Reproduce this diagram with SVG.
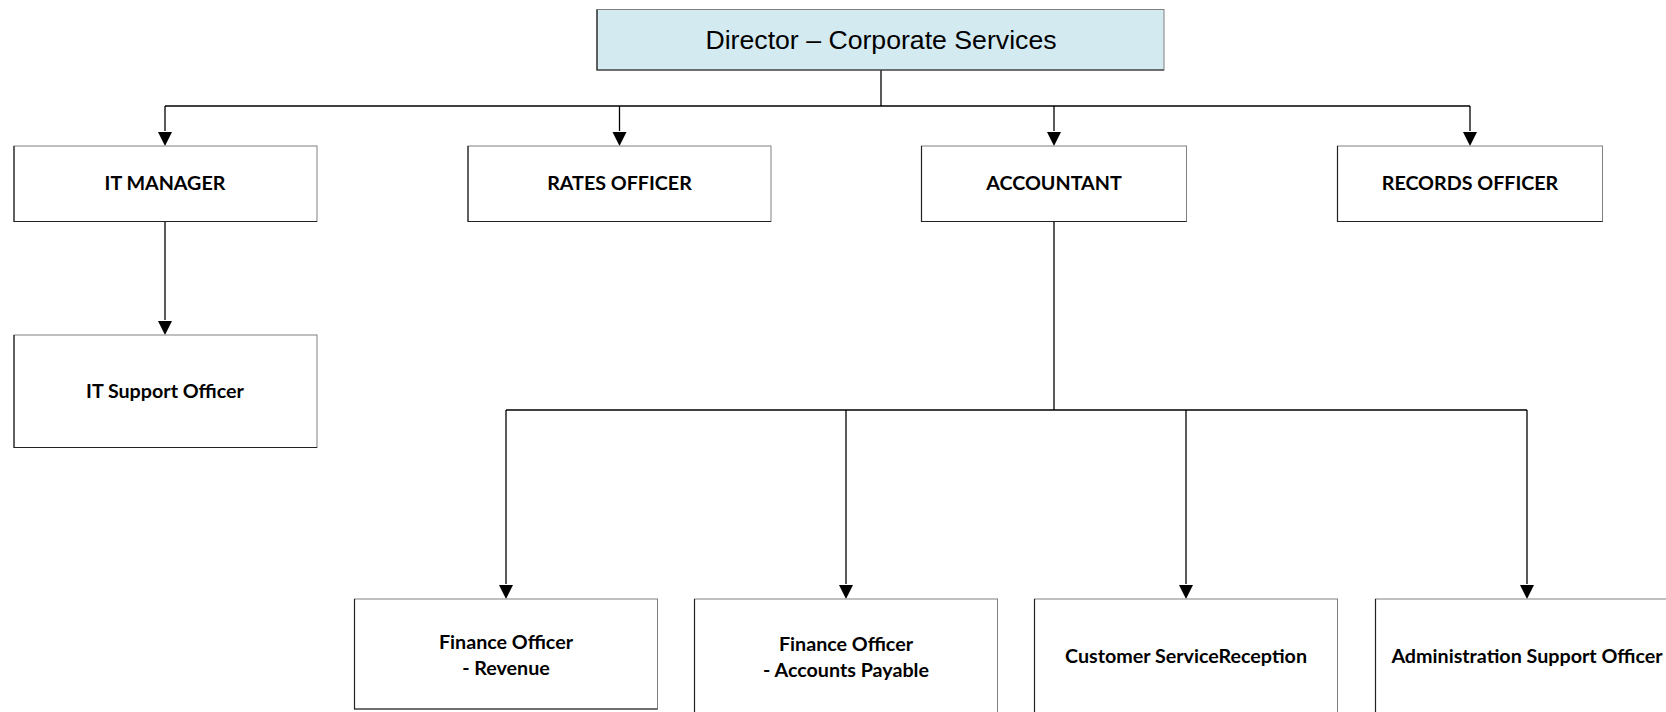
<svg xmlns="http://www.w3.org/2000/svg" width="1666" height="712" viewBox="0 0 1666 712">
  <style>
    .box { fill: #ffffff; stroke: #808080; stroke-width: 1; }
    .top { fill: #d3eaf0; stroke: #808080; stroke-width: 1; }
    .edge { fill: none; stroke: #222222; stroke-width: 1.2; }
    .conn { fill: none; stroke: #000000; stroke-width: 1.3; }
    .lbl { font-family: Lato, "Liberation Sans", sans-serif; font-weight: bold; font-size: 19.7px; fill: #000000; text-anchor: middle; }
    .title { font-family: "Liberation Sans", Arial, sans-serif; font-size: 26.67px; fill: #000000; text-anchor: middle; }
  </style>

  <g id="connectors">
    <path class="conn" d="M881,70 V106"/>
    <path class="conn" d="M165,106 H1470"/>
    <path class="conn" d="M165,106 V131"/>
    <path class="conn" d="M619.5,106 V131"/>
    <path class="conn" d="M1054,106 V131"/>
    <path class="conn" d="M1470,106 V131"/>
    <path class="conn" d="M165,221.5 V320"/>
    <path class="conn" d="M1054,221.5 V410"/>
    <path class="conn" d="M506,410 H1527"/>
    <path class="conn" d="M506,410 V584"/>
    <path class="conn" d="M846,410 V584"/>
    <path class="conn" d="M1186,410 V584"/>
    <path class="conn" d="M1527,410 V584"/>
    <g fill="#000000">
      <polygon points="158,132 172,132 165,146"/>
      <polygon points="612.5,132 626.5,132 619.5,146"/>
      <polygon points="1047,132 1061,132 1054,146"/>
      <polygon points="1463,132 1477,132 1470,146"/>
      <polygon points="158,321 172,321 165,335"/>
      <polygon points="499,585 513,585 506,599"/>
      <polygon points="839,585 853,585 846,599"/>
      <polygon points="1179,585 1193,585 1186,599"/>
      <polygon points="1520,585 1534,585 1527,599"/>
    </g>
  </g>

  <g id="director">
    <rect class="top" x="597" y="9.5" width="567" height="60.5"/>
    <path class="edge" d="M597,9.5 V70 H1164"/>
    <text class="title" x="881" y="48.5">Director – Corporate Services</text>
  </g>

  <g id="it-manager">
    <rect class="box" x="14" y="146" width="303" height="75.5"/>
    <path class="edge" d="M14,146 V221.5 H317"/>
    <text class="lbl" x="165" y="190">IT MANAGER</text>
  </g>

  <g id="rates-officer">
    <rect class="box" x="468" y="146" width="303" height="75.5"/>
    <path class="edge" d="M468,146 V221.5 H771"/>
    <text class="lbl" x="619.5" y="190">RATES OFFICER</text>
  </g>

  <g id="accountant">
    <rect class="box" x="921.5" y="146" width="265" height="75.5"/>
    <path class="edge" d="M921.5,146 V221.5 H1186.5"/>
    <text class="lbl" x="1054" y="190">ACCOUNTANT</text>
  </g>

  <g id="records-officer">
    <rect class="box" x="1337.5" y="146" width="265" height="75.5"/>
    <path class="edge" d="M1337.5,146 V221.5 H1602.5"/>
    <text class="lbl" x="1470" y="190">RECORDS OFFICER</text>
  </g>

  <g id="it-support-officer">
    <rect class="box" x="14" y="335" width="303" height="112.5"/>
    <path class="edge" d="M14,335 V447.5 H317"/>
    <text class="lbl" x="165" y="398">IT Support Officer</text>
  </g>

  <g id="finance-revenue">
    <rect class="box" x="354.5" y="599" width="303" height="110"/>
    <path class="edge" d="M354.5,599 V709 H657.5"/>
    <text class="lbl" x="506" y="649">Finance Officer</text>
    <text class="lbl" x="506" y="674.5">- Revenue</text>
  </g>

  <g id="finance-accounts-payable">
    <rect class="box" x="694.5" y="599" width="303" height="130"/>
    <path class="edge" d="M694.5,599 V729"/>
    <text class="lbl" x="846" y="651">Finance Officer</text>
    <text class="lbl" x="846" y="676.5">- Accounts Payable</text>
  </g>

  <g id="customer-service-reception">
    <rect class="box" x="1034.5" y="599" width="303" height="130"/>
    <path class="edge" d="M1034.5,599 V729"/>
    <text class="lbl" x="1186" y="663">Customer ServiceReception</text>
  </g>

  <g id="administration-support-officer">
    <rect class="box" x="1375.5" y="599" width="303" height="130"/>
    <path class="edge" d="M1375.5,599 V729"/>
    <text class="lbl" x="1527" y="663">Administration Support Officer</text>
  </g>
</svg>
